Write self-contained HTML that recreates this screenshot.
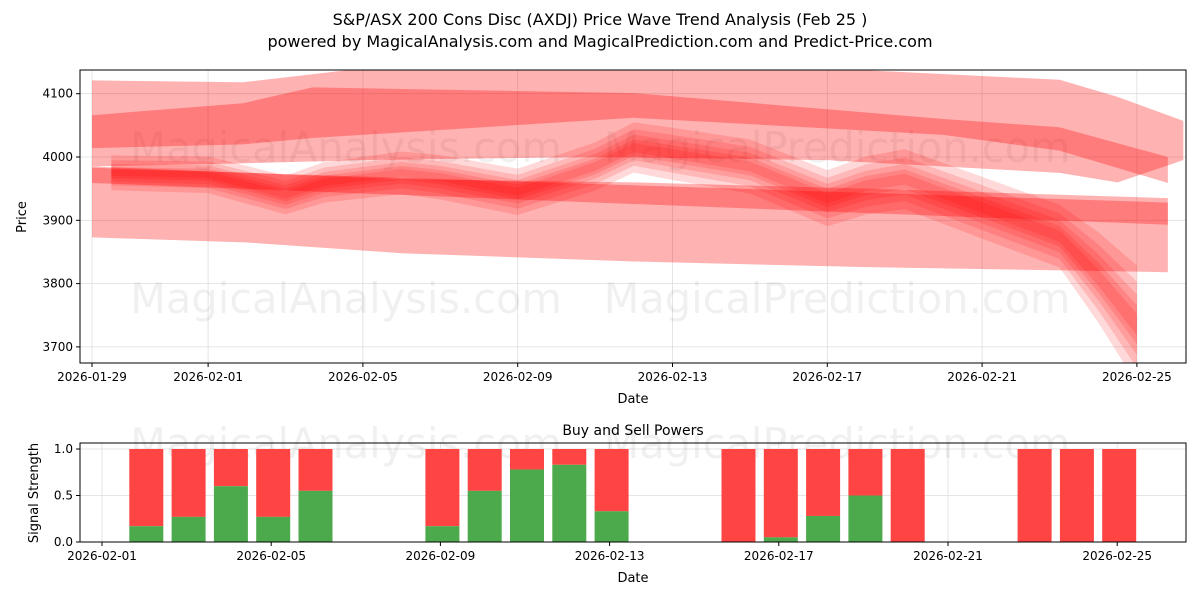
<!DOCTYPE html>
<html><head><meta charset="utf-8"><style>
body{margin:0;background:#fff;font-family:"Liberation Sans","DejaVu Sans",sans-serif}
svg text{font-family:"DejaVu Sans","Liberation Sans",sans-serif}
</style></head><body>
<svg id="c" width="1200" height="600" xmlns="http://www.w3.org/2000/svg">
<text x="600" y="25" text-anchor="middle" font-size="16">S&amp;P/ASX 200 Cons Disc (AXDJ) Price Wave Trend Analysis (Feb 25 )</text>
<text x="600" y="47" text-anchor="middle" font-size="16">powered by MagicalAnalysis.com and MagicalPrediction.com and Predict-Price.com</text>
<g id="topg"></g><g id="botg"></g>
</svg>
<script>
// ---- data ----
const topTicksY=[3700,3800,3900,4000,4100];
const topTickLabelsX=["2026-01-29","2026-02-01","2026-02-05","2026-02-09","2026-02-13","2026-02-17","2026-02-21","2026-02-25"];
const topTickDaysX=[0,3,7,11,15,19,23,27];
const lightUpDays=[0,3.9,7,13,19,25,26.5,28.2];
const lightUpTop=[4121,4118,4140,4140,4140,4122,4095,4057];
const lightUpBot=[3985,3990,3995,4000,3995,3975,3960,3995];
const lightLoDays=[0,4,8,14,20,27.8];
const lightLoTop=[3985,3975,3965,3960,3950,3935];
const lightLoBot=[3873,3865,3848,3835,3826,3818];
const darkDays=[0,3.9,5.7,14,22,25,27.8];
const darkTop=[4066,4085,4110,4101,4060,4047,4000];
const darkBot=[4014,4020,4030,4062,4035,4010,3959];
const midDays=[0,27.8];
const midTop=[3983,3928];
const midBot=[3959,3893];
const waveDays=[0.5,3,5,6,8,9,11,13,14,15,17,19,20,21,23,25,26,27];
const waveVals=[3975,3972,3940,3960,3975,3968,3945,3985,4015,4005,3985,3935,3955,3965,3920,3875,3810,3735];
const waveWidths=[10,18,28,40,55];
const buyDates=[1,2,3,4,5,8,9,10,11,12,15,16,17,18,19,22,23,24];
const buyVals=[0.17,0.27,0.6,0.27,0.55,0.17,0.55,0.78,0.83,0.33,0,0.05,0.28,0.5,0,0,0,0];
const botTickLabels=["2026-02-01","2026-02-05","2026-02-09","2026-02-13","2026-02-17","2026-02-21","2026-02-25"];
const botTickDays=[0,4,8,12,16,20,24];
const botTicksY=[0,0.5,1.0];
// ---- scales ----
const NS="http://www.w3.org/2000/svg";
const T={l:80,r:1186,t:70,b:363};
const tx=d=>92+38.7*d, ty=v=>157-(v-4000)*0.633;
const B={l:80,r:1186,t:443,b:542};
const bx=d=>102+42.3*d, by=v=>542-v*93;
function mk(p,tag,a){const e=document.createElementNS(NS,tag);for(const k in a)e.setAttribute(k,a[k]);p.appendChild(e);return e;}
const topG=document.getElementById('topg'), botG=document.getElementById('botg');
const cp=mk(topG,'clipPath',{id:'cp'});
mk(cp,'rect',{x:T.l,y:T.t,width:T.r-T.l,height:T.b-T.t});
// grid
topTickDaysX.forEach(d=>{mk(topG,'line',{x1:tx(d),x2:tx(d),y1:T.t,y2:T.b,stroke:'#ddd','stroke-width':0.8});});
topTicksY.forEach(v=>{mk(topG,'line',{x1:T.l,x2:T.r,y1:ty(v),y2:ty(v),stroke:'#ddd','stroke-width':0.8});});
// watermark
[[346,162],[837,162],[346,313],[837,313]].forEach((p,i)=>{const w=mk(topG,'text',{x:p[0],y:p[1],'text-anchor':'middle','font-size':41.5,fill:'#000','fill-opacity':0.06});w.textContent=i%2?'MagicalPrediction.com':'MagicalAnalysis.com';

});
const g=mk(topG,'g',{'clip-path':'url(#cp)'});
function band(days,up,lo,op,name){let d='M'+days.map((x,i)=>tx(x)+','+ty(up[i])).join('L');
for(let i=days.length-1;i>=0;i--)d+='L'+tx(days[i])+','+ty(lo[i]);
const p=mk(g,'path',{d:d+'Z',fill:'#ff0000','fill-opacity':op});

}
band(lightUpDays,lightUpTop,lightUpBot,0.3,'upper-band');
band(lightLoDays,lightLoTop,lightLoBot,0.3,'lower-band');
band(darkDays,darkTop,darkBot,0.3,'upper-trend-band');
band(midDays,midTop,midBot,0.3,'mid-trend-band');
waveWidths.forEach((w,k)=>{const n=waveVals.length;const f=i=>1+(i>=n-3?(i-n+4)*0.8:i/n);
const up=waveVals.map((v,i)=>v+w/2*f(i)), lo=waveVals.map((v,i)=>v-w/2*f(i));
band(waveDays,up,lo,0.15,'price-wave-band');});
// axes
mk(topG,'rect',{x:T.l,y:T.t,width:T.r-T.l,height:T.b-T.t,fill:'none',stroke:'#000','stroke-width':1});
topTicksY.forEach(v=>{mk(topG,'line',{x1:T.l-4,x2:T.l,y1:ty(v),y2:ty(v),stroke:'#000'});const s=mk(topG,'text',{x:T.l-7,y:ty(v)+4,'text-anchor':'end','font-size':12});s.textContent=v;

});
topTickDaysX.forEach((d,i)=>{mk(topG,'line',{x1:tx(d),x2:tx(d),y1:T.b,y2:T.b+4,stroke:'#000'});const s=mk(topG,'text',{x:tx(d),y:T.b+18,'text-anchor':'middle','font-size':12});s.textContent=topTickLabelsX[i];

});
let lab=mk(topG,'text',{x:633,y:403,'text-anchor':'middle','font-size':13});lab.textContent='Date';


lab=mk(topG,'text',{x:0,y:0,'text-anchor':'middle','font-size':13,transform:'translate(26,217) rotate(-90)'});lab.textContent='Price';


// bottom chart
botTickDays.forEach(d=>{mk(botG,'line',{x1:bx(d),x2:bx(d),y1:B.t,y2:B.b,stroke:'#ddd','stroke-width':0.8});});
botTicksY.forEach(v=>{mk(botG,'line',{x1:B.l,x2:B.r,y1:by(v),y2:by(v),stroke:'#ddd','stroke-width':0.8});});
[[346,458],[837,458]].forEach((p,i)=>{const w=mk(botG,'text',{x:p[0],y:p[1],'text-anchor':'middle','font-size':41.5,fill:'#000','fill-opacity':0.06});w.textContent=i?'MagicalPrediction.com':'MagicalAnalysis.com';

});
buyDates.forEach((d,i)=>{const x=bx(d)-15,v=buyVals[i];
const r=mk(botG,'rect',{x:x,y:by(1),width:34,height:by(v)-by(1),fill:'#ff4444'});


const gr=mk(botG,'rect',{x:x,y:by(v),width:34,height:by(0)-by(v),fill:'#4caa4c'});

});
mk(botG,'rect',{x:B.l,y:B.t,width:B.r-B.l,height:B.b-B.t,fill:'none',stroke:'#000','stroke-width':1});
botTicksY.forEach(v=>{mk(botG,'line',{x1:B.l-4,x2:B.l,y1:by(v),y2:by(v),stroke:'#000'});const s=mk(botG,'text',{x:B.l-7,y:by(v)+4,'text-anchor':'end','font-size':12});s.textContent=v.toFixed(1);

});
botTickDays.forEach((d,i)=>{mk(botG,'line',{x1:bx(d),x2:bx(d),y1:B.b,y2:B.b+4,stroke:'#000'});const s=mk(botG,'text',{x:bx(d),y:B.b+18,'text-anchor':'middle','font-size':12});s.textContent=botTickLabels[i];

});
lab=mk(botG,'text',{x:633,y:435,'text-anchor':'middle','font-size':14});lab.textContent='Buy and Sell Powers';


lab=mk(botG,'text',{x:633,y:582,'text-anchor':'middle','font-size':13});lab.textContent='Date';


lab=mk(botG,'text',{x:0,y:0,'text-anchor':'middle','font-size':13,transform:'translate(38,493) rotate(-90)'});lab.textContent='Signal Strength';


</script>
</body></html>
